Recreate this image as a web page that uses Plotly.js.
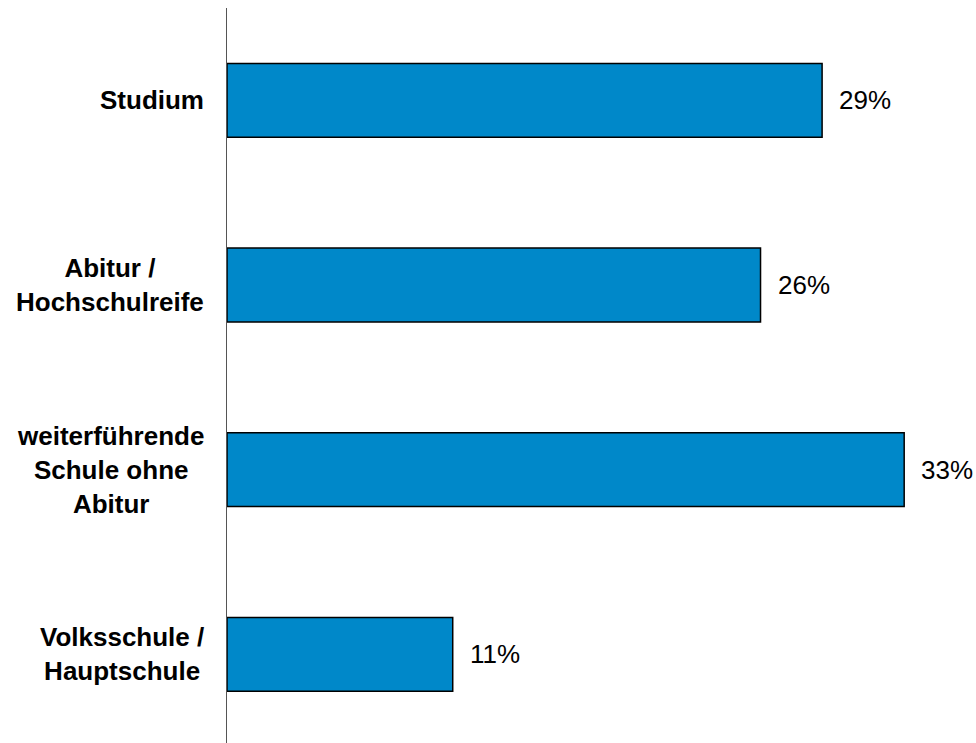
<!DOCTYPE html>
<html>
<head>
<meta charset="utf-8">
<script src="https://cdn.plot.ly/plotly-3.0.1.min.js"></script>
<style>
  html, body { margin: 0; padding: 0; background: #ffffff; }
  #chart { width: 976px; height: 743px; }
</style>
</head>
<body>
<div id="chart"></div>
<script>
// Categories from bottom to top
const categories = [
  "Volksschule /<br>Hauptschule",
  "weiterführende<br>Schule ohne<br>Abitur",
  "Abitur /<br>Hochschulreife",
  "Studium"
];
const values = [11, 33, 26, 29];
const valueLabels = values.map(v => v + "%");

const barColor = "#0088C9";

const trace = {
  type: "bar",
  orientation: "h",
  x: values,
  y: categories,
  marker: { color: barColor, line: { color: "#000000", width: 1.5 } },
  hoverinfo: "none",
  showlegend: false
};

const annotations = [];
categories.forEach((c, i) => {
  annotations.push({
    xref: "paper", yref: "y",
    x: 0, y: c,
    xanchor: "right", yanchor: "middle",
    xshift: -21,
    align: "center",
    text: c,
    showarrow: false,
    font: { family: "Liberation Sans, Arial, sans-serif", size: 26, color: "#000000", weight: "bold" }
  });
  annotations.push({
    xref: "x", yref: "y",
    x: values[i], y: c,
    xanchor: "left", yanchor: "middle",
    xshift: 15,
    text: valueLabels[i],
    showarrow: false,
    font: { family: "Liberation Sans, Arial, sans-serif", size: 26, color: "#000000" }
  });
});

const layout = {
  width: 976,
  height: 743,
  margin: { l: 227, r: 0, t: 8, b: 0, pad: 0 },
  paper_bgcolor: "#ffffff",
  plot_bgcolor: "#ffffff",
  bargap: 0.6,
  xaxis: {
    range: [0, 36.5],
    showgrid: false, zeroline: false, showline: false,
    showticklabels: false, ticks: ""
  },
  yaxis: {
    type: "category",
    categoryorder: "array",
    categoryarray: categories,
    range: [-0.48, 3.5],
    showgrid: false, zeroline: false,
    showline: true, linecolor: "#555555", linewidth: 1.5,
    showticklabels: false, ticks: ""
  },
  annotations: annotations
};

Plotly.newPlot("chart", [trace], layout, { displayModeBar: false, staticPlot: true });
</script>
</body>
</html>
